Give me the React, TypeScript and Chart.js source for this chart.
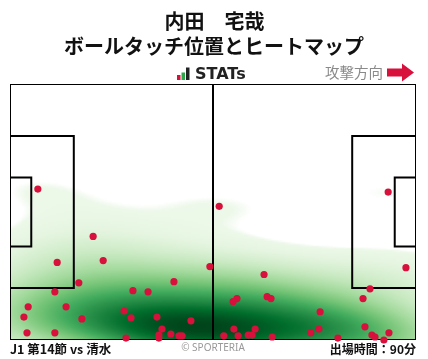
import { useEffect, useRef } from 'react';
import { Chart, registerables } from 'chart.js';

Chart.register(...registerables);

const PITCH_LENGTH = 105;
const PITCH_WIDTH = 68;

const touchX = [7.2, 54.1, 21.5, 24.1, 12.2, 17.8, 11.6, 4.7, 14.5, 3.6, 18.6, 4.4, 11.6, 31.8, 35.7, 42.4, 29.5, 31.3, 38.0, 39.3, 46.8, 30.0, 38.5, 38.5, 41.6, 43.7, 44.5, 51.7, 65.7, 58.7, 57.7, 66.5, 67.5, 57.9, 63.4, 55.3, 59.0, 61.6, 62.6, 67.8, 77.8, 80.2, 79.9, 84.8, 93.1, 91.3, 102.4, 91.8, 93.6, 94.4, 98.0, 96.7, 97.8];
const touchY = [27.9, 32.5, 40.5, 46.9, 47.4, 52.8, 55.2, 59.2, 59.2, 61.9, 62.4, 66.1, 66.1, 54.9, 55.2, 52.5, 60.3, 62.1, 61.9, 65.1, 62.9, 67.5, 66.7, 67.5, 66.4, 66.9, 66.9, 48.5, 50.6, 57.0, 57.8, 56.5, 57.0, 65.1, 65.1, 66.9, 66.9, 66.7, 66.7, 67.2, 66.1, 60.5, 65.1, 67.5, 54.4, 57.0, 48.8, 64.5, 66.7, 67.2, 66.1, 68.0, 28.7];

const titleLines = ['内田　宅哉', 'ボールタッチ位置とヒートマップ'];
const brandLabel = 'STATs';
const directionLabel = '攻撃方向';
const matchLabel = 'J1 第14節 vs 清水';
const creditLabel = '© SPORTERIA';
const minutesLabel = '出場時間：90分';

const GREENS = [
  [247, 252, 245], [229, 245, 224], [199, 233, 192], [161, 217, 155], [116, 196, 118],
  [65, 171, 93], [35, 139, 69], [0, 109, 44], [0, 68, 27],
];

function greens(t: number) {
  const c = Math.max(0, Math.min(1, t)) * 8;
  const i = Math.min(7, Math.floor(c));
  const f = c - i;
  const a = GREENS[i], b = GREENS[i + 1];
  return [a[0] + (b[0] - a[0]) * f, a[1] + (b[1] - a[1]) * f, a[2] + (b[2] - a[2]) * f];
}

let heatCache: HTMLCanvasElement | null = null;

function buildHeat(): HTMLCanvasElement {
  if (heatCache) return heatCache;
  const n = touchX.length;
  let mx = 0, my = 0;
  for (let i = 0; i < n; i++) { mx += touchX[i]; my += touchY[i]; }
  mx /= n; my /= n;
  let sxx = 0, syy = 0, sxy = 0;
  for (let i = 0; i < n; i++) {
    const dx = touchX[i] - mx, dy = touchY[i] - my;
    sxx += dx * dx; syy += dy * dy; sxy += dx * dy;
  }
  sxx /= n - 1; syy /= n - 1; sxy /= n - 1;
  const fac = Math.pow(n, -1 / 6) * 1.12;
  const f2 = fac * fac;
  const cxx = sxx * f2, cyy = syy * f2, cxy = sxy * f2;
  const det = cxx * cyy - cxy * cxy;
  const ixx = cyy / det, iyy = cxx / det, ixy = -cxy / det;

  const res = 0.5;
  const x0 = -20, y0 = -20;
  const nx = Math.round((PITCH_LENGTH + 40) / res);
  const ny = Math.round((PITCH_WIDTH + 40) / res);
  const dens = new Float64Array(nx * ny);
  for (let j = 0; j < ny; j++) {
    const y = y0 + (j + 0.5) * res;
    for (let i = 0; i < nx; i++) {
      const x = x0 + (i + 0.5) * res;
      let s = 0;
      for (let k = 0; k < n; k++) {
        const dx = x - touchX[k], dy = y - touchY[k];
        s += Math.exp(-0.5 * (ixx * dx * dx + 2 * ixy * dx * dy + iyy * dy * dy));
      }
      dens[j * nx + i] = s;
    }
  }
  const order = Array.from({ length: nx * ny }, (_, i) => i);
  order.sort((a, b) => dens[a] - dens[b]);
  let total = 0;
  for (let i = 0; i < dens.length; i++) total += dens[i];
  const prop = new Float64Array(nx * ny);
  let cum = 0;
  for (const idx of order) { prop[idx] = cum / total; cum += dens[idx]; }

  const thresh = 0.065;
  const ox = Math.round(20 / res), oy = Math.round(20 / res);
  const w = Math.round(PITCH_LENGTH / res), h = Math.round(PITCH_WIDTH / res);
  const cv = document.createElement('canvas');
  cv.width = w; cv.height = h;
  const c2 = cv.getContext('2d')!;
  const img = c2.createImageData(w, h);
  for (let j = 0; j < h; j++) {
    for (let i = 0; i < w; i++) {
      const p = prop[(j + oy) * nx + (i + ox)];
      const o = (j * w + i) * 4;
      if (p < thresh) { img.data[o + 3] = 0; continue; }
      const t = (p - thresh) / (1 - thresh);
      const col = greens(0.06 + 0.94 * t);
      img.data[o] = col[0]; img.data[o + 1] = col[1]; img.data[o + 2] = col[2];
      img.data[o + 3] = Math.round(255 * Math.min(1, (p - thresh) / 0.01));
    }
  }
  c2.putImageData(img, 0, 0);
  heatCache = cv;
  return cv;
}

const pitchPlugin = {
  id: 'pitch',
  beforeDatasetsDraw(chart: any) {
    const { ctx, chartArea, scales } = chart;
    const X = (v: number) => scales.x.getPixelForValue(v);
    const Y = (v: number) => scales.y.getPixelForValue(v);
    const heat = buildHeat();
    ctx.save();
    ctx.beginPath();
    ctx.rect(chartArea.left, chartArea.top, chartArea.right - chartArea.left, chartArea.bottom - chartArea.top);
    ctx.clip();
    ctx.imageSmoothingEnabled = true;
    ctx.drawImage(heat, X(0), Y(0), X(PITCH_LENGTH) - X(0), Y(PITCH_WIDTH) - Y(0));
    ctx.restore();

    ctx.save();
    ctx.strokeStyle = '#000';
    ctx.lineWidth = 2;
    const boxW = 40.32, gaW = 18.32;
    const boxes = [
      [0, 16.5, boxW], [0, 5.5, gaW],
      [PITCH_LENGTH, PITCH_LENGTH - 16.5, boxW], [PITCH_LENGTH, PITCH_LENGTH - 5.5, gaW],
    ];
    for (const [xa, xb, wd] of boxes) {
      const ya = (PITCH_WIDTH - wd) / 2, yb = (PITCH_WIDTH + wd) / 2;
      ctx.beginPath();
      ctx.moveTo(X(xa), Y(ya));
      ctx.lineTo(X(xb), Y(ya));
      ctx.lineTo(X(xb), Y(yb));
      ctx.lineTo(X(xa), Y(yb));
      ctx.stroke();
    }
    ctx.beginPath();
    ctx.moveTo(X(PITCH_LENGTH / 2), Y(0));
    ctx.lineTo(X(PITCH_LENGTH / 2), Y(PITCH_WIDTH));
    ctx.stroke();
    ctx.lineWidth = 1;
    ctx.strokeRect(X(0) + 0.5, Y(0) + 0.5, X(PITCH_LENGTH) - X(0) - 1, Y(PITCH_WIDTH) - Y(0) - 1);
    ctx.restore();
  },
};

const textPlugin = {
  id: 'texts',
  afterDraw(chart: any) {
    const { ctx } = chart;
    ctx.save();
    ctx.fillStyle = '#111';
    ctx.textAlign = 'center';
    ctx.textBaseline = 'middle';
    ctx.font = 'bold 20px "Noto Sans CJK JP"';
    ctx.fillText(titleLines[0], 214.5, 21);
    ctx.fillText(titleLines[1], 214, 46);

    // brand logo bars
    ctx.fillStyle = '#d7103c';
    ctx.fillRect(177, 75, 3.5, 5);
    ctx.fillStyle = '#2ca84a';
    ctx.fillRect(181.5, 72.5, 3.5, 7.5);
    ctx.fillStyle = '#222';
    ctx.fillRect(186, 67.5, 3.5, 12.5);
    ctx.font = 'bold 16px "DejaVu Sans"';
    ctx.textAlign = 'left';
    ctx.fillText(brandLabel, 195, 74.5);

    ctx.fillStyle = '#8a8a8a';
    ctx.font = '14.5px "Noto Sans CJK JP"';
    ctx.fillText(directionLabel, 325, 72.5);

    ctx.fillStyle = '#d7103c';
    ctx.beginPath();
    ctx.moveTo(387, 68.5);
    ctx.lineTo(402, 68.5);
    ctx.lineTo(402, 63.5);
    ctx.lineTo(414, 72.5);
    ctx.lineTo(402, 81.5);
    ctx.lineTo(402, 76.5);
    ctx.lineTo(387, 76.5);
    ctx.closePath();
    ctx.fill();

    ctx.fillStyle = '#111';
    ctx.font = 'bold 12.5px "Noto Sans CJK JP"';
    ctx.textAlign = 'left';
    ctx.fillText(matchLabel, 10, 349);
    ctx.textAlign = 'right';
    ctx.font = 'bold 12px "Noto Sans CJK JP"';
    ctx.fillText(minutesLabel, 416, 349);
    ctx.textAlign = 'center';
    ctx.fillStyle = '#999';
    ctx.font = '10px "Noto Sans"';
    ctx.fillText(creditLabel, 213, 348.5);
    ctx.restore();
  },
};

export default function App() {
  const ref = useRef<HTMLCanvasElement>(null);
  useEffect(() => {
    if (!ref.current) return;
    const chart = new Chart(ref.current, {
      type: 'scatter',
      data: {
        datasets: [{
          data: touchX.map((x, i) => ({ x, y: touchY[i] })),
          backgroundColor: '#d7103c',
          borderWidth: 0,
          pointRadius: 3.6,
          clip: false,
        } as any],
      },
      options: {
        animation: false,
        responsive: false,
        devicePixelRatio: 1,
        layout: { padding: { left: 10, right: 12, top: 84, bottom: 19 } },
        scales: {
          x: { type: 'linear', min: 0, max: PITCH_LENGTH, display: false },
          y: { type: 'linear', min: 0, max: PITCH_WIDTH, reverse: true, display: false },
        },
        plugins: { legend: { display: false }, tooltip: { enabled: false }, title: { display: false } },
      },
      plugins: [pitchPlugin, textPlugin],
    });
    return () => chart.destroy();
  }, []);
  return (
    <div style={{ position: 'fixed', left: 0, top: 0, width: 428, height: 359, background: '#fff' }}>
      <canvas ref={ref} width={428} height={359} style={{ display: 'block' }} />
    </div>
  );
}
